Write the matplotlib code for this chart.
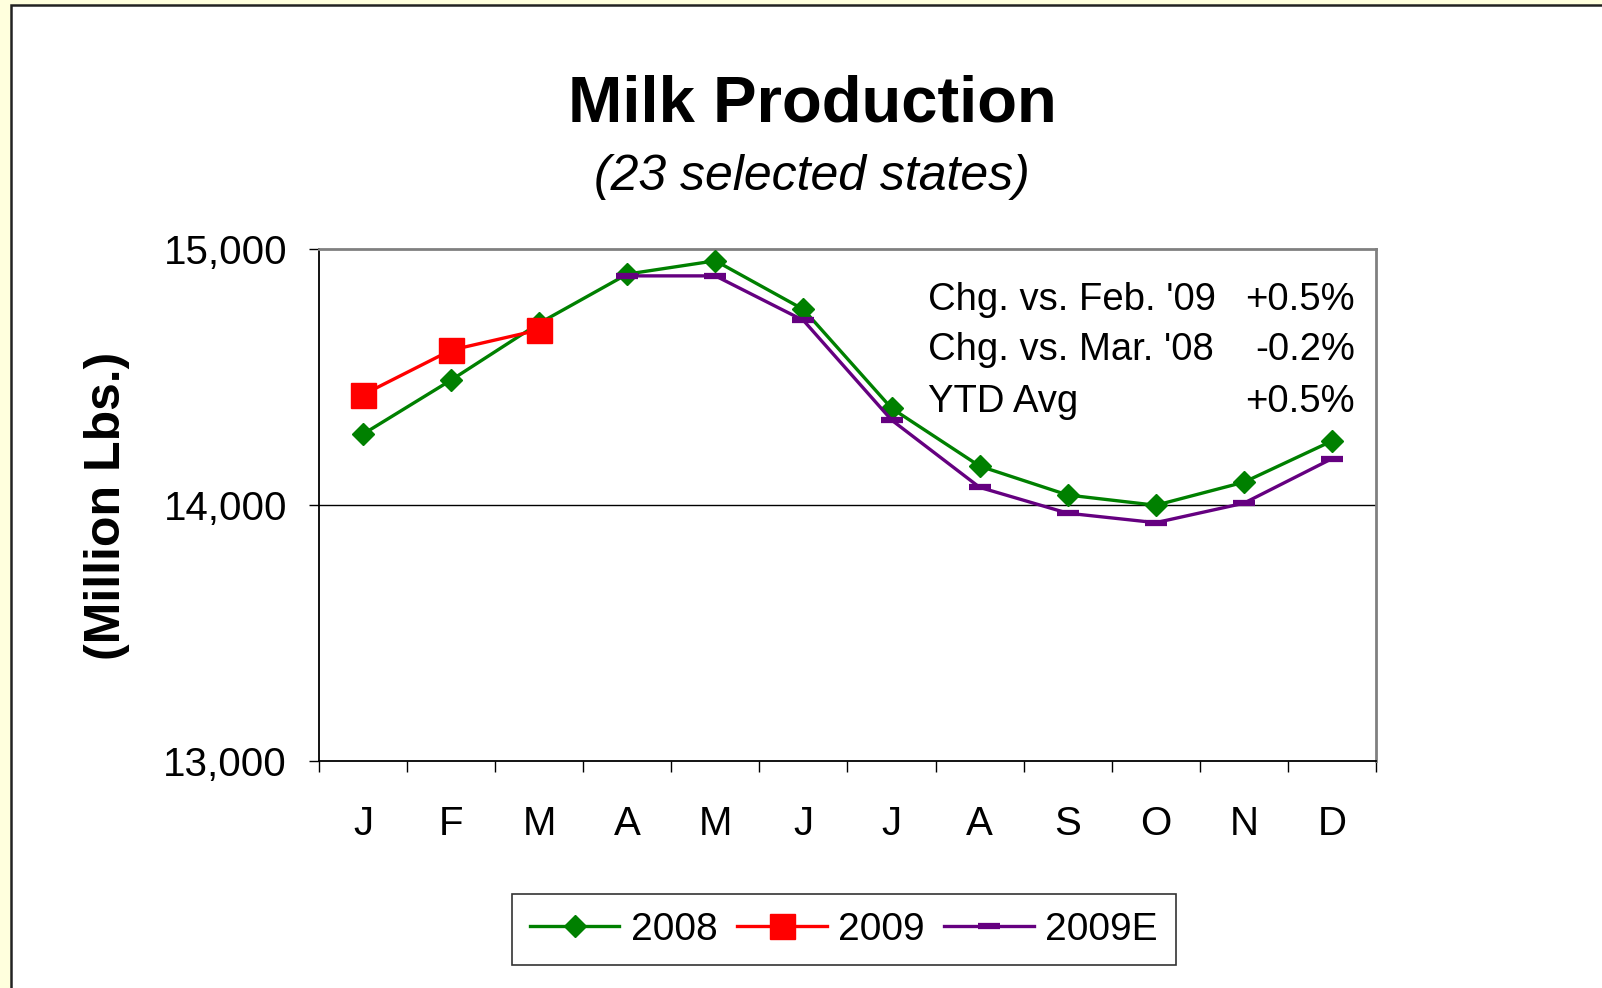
#Milk production chart, 2008 vs 2009 vs 2009E, 23 selected states
import matplotlib
matplotlib.use("Agg")
import matplotlib.pyplot as plt
from matplotlib.patches import Rectangle
import numpy as np

plt.rcParams['font.family'] = ['Liberation Sans', 'DejaVu Sans']

months = ["J", "F", "M", "A", "M", "J", "J", "A", "S", "O", "N", "D"]
prod_2008 = [14277, 14488, 14710, 14902, 14954, 14764, 14378, 14152, 14039, 13999, 14089, 14250]
prod_2009 = [14431, 14605, 14684]
prod_2009e = [np.nan, np.nan, np.nan, 14895, 14895, 14721, 14332, 14069, 13968, 13931, 14007, 14181]

notes = ["Chg. vs. Feb. '09", "Chg. vs. Mar. '08", "YTD Avg"]
note_vals = ["+0.5%", "-0.2%", "+0.5%"]

W, H = 1602, 988
fig = plt.figure(figsize=(W / 100, H / 100), dpi=100)
fig.patch.set_facecolor("#FFFFDD")

# white panel with dark left/top edge
fig.patches.append(Rectangle((11 / W, -0.1), 1.2, 1 - 5 / H + 0.1, transform=fig.transFigure,
                             facecolor="white", edgecolor="#222222", linewidth=1.8, zorder=-5))

ax = fig.add_axes([319 / W, 1 - 761 / H, (1376 - 319) / W, (761 - 249) / H])
ax.set_facecolor("white")

x = np.arange(len(months))
ax.plot(x, prod_2008, color="#008000", lw=2.4, marker="D", markersize=11, label="2008", zorder=3)
ax.plot(x[:len(prod_2009)], prod_2009, color="#FF0000", lw=2.4, marker="s", markersize=18, label="2009", zorder=4)
ax.plot(x, prod_2009e, color="#650080", lw=2.4, marker="_", markersize=16, markeredgewidth=4.5, label="2009E", zorder=3)

ax.set_xlim(-0.5, len(months) - 0.5)
ax.set_ylim(13000, 15000)
ax.set_yticks([13000, 14000, 15000])
ax.set_yticklabels(["13,000", "14,000", "15,000"])
ax.axhline(14000, color="black", lw=1, zorder=1)

ax.set_xticks(np.arange(-0.5, len(months)), labels=[""] * (len(months) + 1))
ax.set_xticks(x, labels=months, minor=True)
ax.tick_params(axis="x", which="major", direction="out", length=8, width=1, color="black")
ax.tick_params(axis="x", which="minor", length=0, pad=32, labelsize=29)
ax.tick_params(axis="y", direction="out", length=7, width=1, pad=16, labelsize=29)

for s in ["left", "bottom"]:
    ax.spines[s].set_color("black")
    ax.spines[s].set_linewidth(1.3)
for s in ["top", "right"]:
    ax.spines[s].set_color("#808080")
    ax.spines[s].set_linewidth(2)

for i in range(len(notes)):
    yy = [0.901, 0.802, 0.702][i]
    ax.text(0.576, yy, notes[i], transform=ax.transAxes, fontsize=27.5, ha="left", va="center")
    ax.text(0.980, yy, note_vals[i], transform=ax.transAxes, fontsize=27.5, ha="right", va="center")

fig.text(812 / W, 1 - 105 / H, "Milk Production", fontsize=47, fontweight="bold", ha="center", va="center")
fig.text(812 / W, 1 - 177 / H, "(23 selected states)", fontsize=36, fontstyle="italic", ha="center", va="center")
fig.text(107 / W, 1 - 506 / H, "(Million Lbs.)", fontsize=36, fontweight="bold", rotation=90,
         ha="center", va="center")

leg = fig.legend(loc="center", bbox_to_anchor=(844 / W, 1 - 930 / H), ncol=3, fontsize=28,
                 frameon=True, fancybox=False, edgecolor="black", handlelength=2.3,
                 handletextpad=0.3, columnspacing=0.5, borderpad=0.45)
leg.get_frame().set_linewidth(1.2)

fig.savefig("out.png", dpi=100, facecolor=fig.get_facecolor())
